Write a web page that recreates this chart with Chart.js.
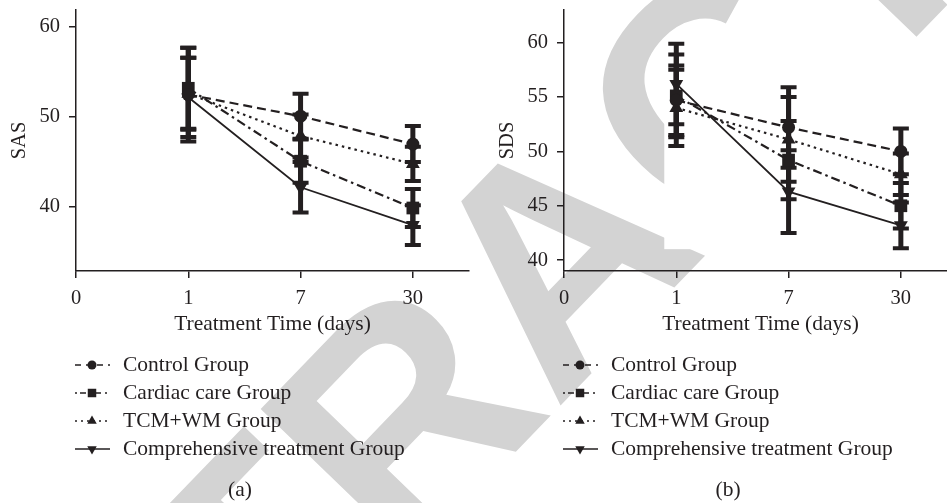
<!DOCTYPE html>
<html>
<head>
<meta charset="utf-8">
<script src="https://cdn.jsdelivr.net/npm/chart.js@4.4.0/dist/chart.umd.min.js"></script>
<style>
  html, body { margin:0; padding:0; background:#fff; overflow:hidden; width:947px; height:503px; }
  #wm { position:absolute; left:0; top:0; }
  .panel { position:absolute; top:0; width:480px; height:503px; }
  #pa { left:0; }
  #pb { left:488px; }
</style>
</head>
<body>
<canvas id="wm" width="947" height="503"></canvas>
<div class="panel" id="pa"><canvas id="ca" width="480" height="503"></canvas></div>
<div class="panel" id="pb"><canvas id="cb" width="480" height="503"></canvas></div>
<script>
// ---------- data ----------
const xTickLabels = ['0', '1', '7', '30'];
const days = ['1', '7', '30'];
const seriesNames = ['Control Group', 'Cardiac care Group', 'TCM+WM Group', 'Comprehensive treatment Group'];

const sasTicks = [40, 50, 60];
const sasControl = [52.5, 50.1, 47.0];
const sasControlSD = [5.2, 2.5, 2.0];
const sasCardiac = [53.2, 45.1, 39.9];
const sasCardiacSD = [4.5, 2.4, 2.1];
const sasTcm = [52.6, 47.9, 44.8];
const sasTcmSD = [4.0, 2.4, 1.9];
const sasComp = [52.2, 42.2, 38.0];
const sasCompSD = [4.4, 2.8, 2.2];

const sdsTicks = [40, 45, 50, 55, 60];
const sdsControl = [54.7, 52.2, 50.0];
const sdsControlSD = [3.2, 3.7, 2.1];
const sdsCardiac = [55.1, 49.2, 45.0];
const sdsCardiacSD = [3.8, 3.6, 2.1];
const sdsTcm = [54.0, 51.1, 47.9];
const sdsTcmSD = [3.5, 3.9, 1.9];
const sdsComp = [56.2, 46.3, 43.2];
const sdsCompSD = [3.7, 3.8, 2.1];

// ---------- styles ----------
const INK = '#231f20';
const SERIF = '"Liberation Serif", "Times New Roman", serif';
Chart.defaults.font.family = SERIF;
Chart.defaults.color = INK;

const styles = [
  { dash: [9, 5], legendDash: [6, 5], pointStyle: 'circle', rotation: 0, radius: 6.5, lw: 2.2, lr: 4.5 },
  { dash: [9, 4, 2.5, 4], legendDash: [2, 3, 6, 4], pointStyle: 'rect', rotation: 0, radius: 9, lw: 2.2, lr: 6 },
  { dash: [2.5, 4], legendDash: [2, 4], pointStyle: 'triangle', rotation: 0, radius: 8, lw: 2.2, lr: 5.5 },
  { dash: [], legendDash: [], pointStyle: 'triangle', rotation: 180, radius: 8, lw: 1.8, lr: 5.5 }
];

// ---------- watermark (page background) ----------
(function () {
  const c = document.getElementById('wm').getContext('2d');
  c.fillStyle = 'rgb(211,211,211)';
  c.font = 'bold 310px "Liberation Sans", Arial, sans-serif';
  c.textBaseline = 'alphabetic';
  c.translate(-31, 1018);
  c.rotate(-46 * Math.PI / 180);
  c.fillText('RETRACTED', 0, 0);
})();

// ---------- plugins ----------
const errorBars = {
  id: 'errorBars',
  beforeDatasetsDraw(chart) {
    const { ctx, scales: { x, y } } = chart;
    let xmin = Infinity, xmax = -Infinity, ymin = Infinity, ymax = -Infinity;
    chart.data.datasets.forEach(ds => ds.data.forEach((p, i) => {
      xmin = Math.min(xmin, p.x); xmax = Math.max(xmax, p.x);
      ymin = Math.min(ymin, p.y - ds.sd[i]); ymax = Math.max(ymax, p.y + ds.sd[i]);
    }));
    ctx.save();
    ctx.fillStyle = '#ffffff';
    const L = x.getPixelForValue(xmin) - 12, R = x.getPixelForValue(xmax) + 8;
    const T = y.getPixelForValue(ymax) - 1, B = y.getPixelForValue(ymin) + 1;
    ctx.fillRect(L, T, R - L, B - T);
    ctx.strokeStyle = INK;
    chart.data.datasets.forEach(ds => ds.data.forEach((p, i) => {
      const px = x.getPixelForValue(p.x);
      const top = y.getPixelForValue(p.y + ds.sd[i]);
      const bot = y.getPixelForValue(p.y - ds.sd[i]);
      ctx.lineWidth = 5;
      ctx.beginPath(); ctx.moveTo(px, top); ctx.lineTo(px, bot); ctx.stroke();
      ctx.lineWidth = 4;
      ctx.beginPath();
      ctx.moveTo(px - 8, top); ctx.lineTo(px + 8, top);
      ctx.moveTo(px - 8, bot); ctx.lineTo(px + 8, bot);
      ctx.stroke();
    }));
    ctx.restore();
  }
};

const legendRows = {
  id: 'legendRows',
  afterDraw(chart, args, opts) {
    const ctx = chart.ctx;
    ctx.save();
    chart.data.datasets.forEach((ds, i) => {
      const st = styles[i];
      const yy = opts.top + i * opts.gap;
      ctx.strokeStyle = INK;
      ctx.lineWidth = 1.5;
      ctx.setLineDash(st.legendDash);
      ctx.beginPath(); ctx.moveTo(opts.x0, yy); ctx.lineTo(opts.x1, yy); ctx.stroke();
      ctx.setLineDash([]);
      ctx.fillStyle = INK;
      Chart.helpers.drawPoint(ctx, { pointStyle: st.pointStyle, rotation: st.rotation, radius: st.lr, borderWidth: 0 }, opts.xm, yy);
      ctx.font = opts.font;
      ctx.textAlign = 'left';
      ctx.textBaseline = 'middle';
      ctx.fillText(ds.label, opts.xt, yy);
    });
    ctx.font = opts.font;
    ctx.textAlign = 'center';
    ctx.textBaseline = 'middle';
    ctx.fillText(opts.caption, opts.xc, opts.yc);
    ctx.restore();
  }
};

function makeDatasets(means, sds) {
  return means.map((m, k) => ({
    label: seriesNames[k],
    data: days.map((d, i) => ({ x: xTickLabels.indexOf(d), y: m[i] })),
    sd: sds[k],
    borderColor: INK,
    backgroundColor: INK,
    borderWidth: styles[k].lw,
    borderDash: styles[k].dash,
    pointStyle: styles[k].pointStyle,
    pointRotation: styles[k].rotation,
    pointRadius: styles[k].radius,
    pointBackgroundColor: INK,
    pointBorderColor: INK,
    pointBorderWidth: 0,
    fill: false,
    tension: 0
  }));
}

function makeChart(id, title, means, sds, yMin, yMax, yTicks, caption) {
  return new Chart(document.getElementById(id), {
    type: 'line',
    data: { datasets: makeDatasets(means, sds) },
    options: {
      responsive: false,
      animation: false,
      devicePixelRatio: 1,
      layout: { padding: { top: 10, right: 11, bottom: 166, left: 0 } },
      plugins: {
        legend: { display: false },
        tooltip: { enabled: false },
        legendRows: { top: 365, gap: 28, x0: 75, x1: 110, xm: 92, xt: 123, font: '21.5px ' + SERIF, caption: caption, xc: 240, yc: 490 }
      },
      scales: {
        x: {
          type: 'linear', min: 0, max: 3.5,
          afterBuildTicks: s => { s.ticks = xTickLabels.map((_, i) => ({ value: i })); },
          afterFit: s => { s.height = 66; s.paddingLeft = 0; s.paddingRight = 0; },
          ticks: { callback: v => xTickLabels[v], color: INK, font: { size: 20.5 }, padding: 8, maxRotation: 0 },
          grid: { display: true, drawOnChartArea: false, drawTicks: true, tickLength: 7, color: INK, lineWidth: 1.5 },
          border: { display: true, color: INK, width: 1.5 },
          title: { display: true, text: 'Treatment Time (days)', color: INK, font: { size: 21.5 }, padding: { top: 0, bottom: 0 } }
        },
        y: {
          type: 'linear', min: yMin, max: yMax,
          afterBuildTicks: s => { s.ticks = yTicks.map(v => ({ value: v })); },
          afterFit: s => { s.width = 76; s.paddingTop = 0; s.paddingBottom = 0; },
          ticks: { color: INK, font: { size: 20.5 }, padding: 9 },
          grid: { display: true, drawOnChartArea: false, drawTicks: true, tickLength: 7, color: INK, lineWidth: 1.5 },
          border: { display: true, color: INK, width: 1.5 },
          title: { display: true, text: title, color: INK, font: { size: 20.5 }, padding: { top: 7, bottom: 0 } }
        }
      }
    },
    plugins: [errorBars, legendRows]
  });
}

makeChart('ca', 'SAS',
  [sasControl, sasCardiac, sasTcm, sasComp],
  [sasControlSD, sasCardiacSD, sasTcmSD, sasCompSD],
  32.9, 61.9, sasTicks, '(a)');

makeChart('cb', 'SDS',
  [sdsControl, sdsCardiac, sdsTcm, sdsComp],
  [sdsControlSD, sdsCardiacSD, sdsTcmSD, sdsCompSD],
  39.0, 63.0, sdsTicks, '(b)');
</script>
</body>
</html>
